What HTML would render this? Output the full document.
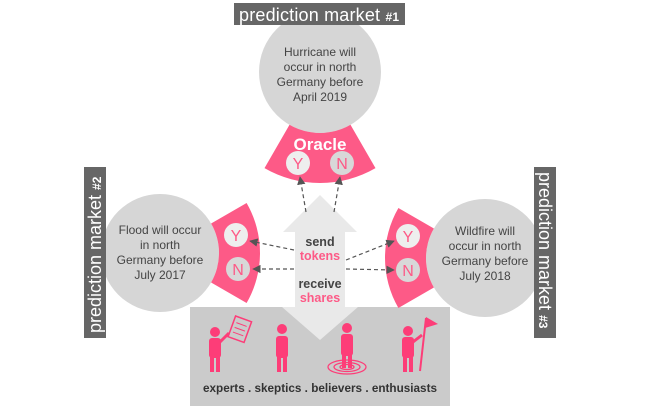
<!DOCTYPE html>
<html><head><meta charset="utf-8"><style>
body{margin:0;background:#fff;width:661px;height:410px;overflow:hidden}
svg text{font-family:"Liberation Sans",sans-serif}
</style></head><body>
<svg width="661" height="410" viewBox="0 0 661 410" xmlns="http://www.w3.org/2000/svg">
<defs><marker id="ah" viewBox="0 0 10 10" refX="9" refY="5" markerWidth="7" markerHeight="7" orient="auto"><path d="M0,0L10,5L0,10z" fill="#555"/></marker></defs>
<rect x="190" y="307" width="260" height="99" fill="#cbcbcb"/>
<path d="M320,195 L357,232 L345,232 L345,307 L358,307 L320,340 L282,307 L295,307 L295,232 L283,232 Z" fill="#e9e9e9"/>
<circle cx="320" cy="72" r="61" fill="#d6d6d6"/>
<circle cx="160" cy="253" r="59" fill="#d6d6d6"/>
<circle cx="485" cy="258" r="59" fill="#d6d6d6"/>
<path d="M289.5,124.8 A61,61 0 0 0 350.5,124.8 L375.5,168.1 A111,111 0 0 1 264.5,168.1 Z" fill="#fd5a87"/>
<path d="M211.1,223.5 A59,59 0 0 1 211.1,282.5 L246.6,303 A100,100 0 0 0 246.6,203 Z" fill="#fd5a87"/>
<path d="M433.9,228.5 A59,59 0 0 0 433.9,287.5 L398.4,308 A100,100 0 0 1 398.4,208 Z" fill="#fd5a87"/>
<g font-size="16" fill="#fd5a87" text-anchor="middle">
<circle cx="298" cy="163" r="12" fill="#eeeeee"/><text x="298" y="169">Y</text>
<circle cx="342" cy="163" r="12" fill="#d8d8d8"/><text x="342" y="169">N</text>
<circle cx="236" cy="235" r="12" fill="#eeeeee"/><text x="236" y="241">Y</text>
<circle cx="238" cy="269" r="12" fill="#d8d8d8"/><text x="238" y="275">N</text>
<circle cx="408" cy="236" r="12" fill="#eeeeee"/><text x="408" y="242">Y</text>
<circle cx="408" cy="270" r="12" fill="#d8d8d8"/><text x="408" y="276">N</text>
</g>
<text x="320" y="150" font-size="17" font-weight="bold" fill="#fff" text-anchor="middle">Oracle</text>
<g stroke="#555" stroke-width="1.2" stroke-dasharray="4,3" fill="none" marker-end="url(#ah)">
<line x1="306" y1="212" x2="300" y2="177"/>
<line x1="334" y1="212" x2="340" y2="177"/>
<line x1="294" y1="250" x2="250" y2="241"/>
<line x1="294" y1="269" x2="253" y2="269"/>
<line x1="346" y1="260" x2="394" y2="241"/>
<line x1="346" y1="269" x2="394" y2="270"/>
</g>
<g font-size="12.5" font-weight="bold" text-anchor="middle">
<text x="320" y="246" fill="#444">send</text>
<text x="320" y="260" fill="#fd5a87">tokens</text>
<text x="320" y="288" fill="#444">receive</text>
<text x="320" y="302" fill="#fd5a87">shares</text>
</g>
<g font-size="12" fill="#444" text-anchor="middle">
<text x="320" y="56">Hurricane will</text><text x="320" y="71">occur in north</text><text x="320" y="86">Germany before</text><text x="320" y="101">April 2019</text>
<text x="160" y="234">Flood will occur</text><text x="160" y="249">in north</text><text x="160" y="264">Germany before</text><text x="160" y="279">July 2017</text>
<text x="485" y="235">Wildfire will</text><text x="485" y="250">occur in north</text><text x="485" y="265">Germany before</text><text x="485" y="280">July 2018</text>
</g>
<rect x="234" y="3" width="171" height="22" fill="#666"/>
<text x="239" y="21" font-size="18" fill="#fff" textLength="160">prediction market <tspan font-size="12" font-weight="bold">#1</tspan></text>
<rect x="84" y="167" width="22" height="171" fill="#666"/>
<text transform="translate(101,333) rotate(-90)" font-size="18" fill="#fff">prediction market <tspan font-size="12" font-weight="bold">#2</tspan></text>
<rect x="534" y="167" width="22" height="171" fill="#666"/>
<text transform="translate(539,172) rotate(90)" font-size="18" fill="#fff">prediction market <tspan font-size="12" font-weight="bold">#3</tspan></text>
<g fill="#fd3d78">
<g transform="translate(215,0)">
<circle cx="0" cy="332" r="5"/><rect x="-6" y="338" width="12" height="20" rx="3"/><rect x="-5" y="356" width="4" height="16"/><rect x="1" y="356" width="4" height="16"/>
<line x1="5" y1="342" x2="14" y2="333" stroke="#fd3d78" stroke-width="3"/>
<g transform="rotate(20 24 330)"><rect x="16" y="318" width="17" height="22" fill="none" stroke="#fd3d78" stroke-width="1.5"/><line x1="19" y1="324" x2="30" y2="324" stroke="#fd3d78"/><line x1="19" y1="329" x2="30" y2="329" stroke="#fd3d78"/><line x1="19" y1="334" x2="30" y2="334" stroke="#fd3d78"/></g>
</g>
<g transform="translate(282,0)">
<circle cx="0" cy="329" r="5"/><rect x="-6" y="336" width="12" height="22" rx="3"/><rect x="-5" y="356" width="4" height="16"/><rect x="1" y="356" width="4" height="16"/>
</g>
<g transform="translate(347,0)">
<circle cx="0" cy="328" r="5"/><rect x="-6" y="334" width="12" height="22" rx="3"/><rect x="-5" y="354" width="4" height="14"/><rect x="1" y="354" width="4" height="14"/>
<ellipse cx="0" cy="367" rx="19" ry="7" fill="none" stroke="#fd3d78" stroke-width="1.3"/><ellipse cx="0" cy="367" rx="13" ry="4.5" fill="none" stroke="#fd3d78" stroke-width="1.3"/><ellipse cx="0" cy="367" rx="7" ry="2.5" fill="none" stroke="#fd3d78" stroke-width="1.3"/>
</g>
<g transform="translate(408,0)">
<circle cx="0" cy="331" r="5"/><rect x="-6" y="337" width="12" height="21" rx="3"/><rect x="-5" y="356" width="4" height="16"/><rect x="1" y="356" width="4" height="16"/>
<line x1="5" y1="342" x2="14" y2="335" stroke="#fd3d78" stroke-width="3"/>
<line x1="12" y1="371" x2="18" y2="318" stroke="#fd3d78" stroke-width="2"/>
<path d="M18,317 L30,324 L17,328Z"/>
</g>
</g>
<text x="203" y="392" font-size="12" font-weight="bold" fill="#333" textLength="234" lengthAdjust="spacingAndGlyphs">experts . skeptics .  believers . enthusiasts</text>
</svg>
</body></html>
